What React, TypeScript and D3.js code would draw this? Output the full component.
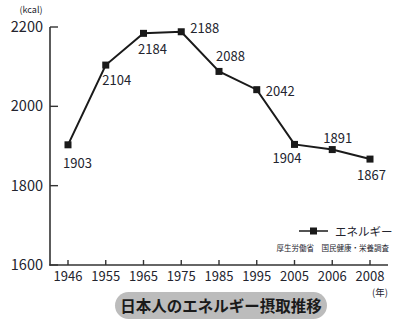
import React from "react";
import * as d3 from "d3";

const years = ["1946", "1955", "1965", "1975", "1985", "1995", "2005", "2006", "2008"];
const energy = [1903, 2104, 2184, 2188, 2088, 2042, 1904, 1891, 1867];
const yTicks = [1600, 1800, 2000, 2200];
// label placement offsets (dx, dy) relative to each point, text-anchor start
const labelDx = [-5, -3.5, -5.5, 9, -3, 9, -22, -9, -13];
const labelDy = [23, 19.5, 21, 1, -10, 6, 19, -7, 21];

const W = 400;
const H = 323;
const FONT = "'Noto Sans CJK JP', 'Noto Sans', sans-serif";
const TXT = "#23242e";

export default function App() {
  const x = d3.scalePoint<string>().domain(years).range([68, 370]);
  const y = d3.scaleLinear().domain([1600, 2200]).range([265, 27]);
  const line = d3
    .line<number>()
    .x((_, i) => x(years[i]) as number)
    .y((d) => y(d));

  return (
    <svg
      width={W}
      height={H}
      style={{ position: "absolute", left: 0, top: 0, background: "#fff" }}
      fontFamily={FONT}
    >
      {/* axes */}
      <line x1={50} x2={50} y1={27} y2={265.5} stroke="#333" strokeWidth={1.6} />
      <line x1={49.2} x2={388} y1={265} y2={265} stroke="#333" strokeWidth={1.6} />
      {yTicks.map((t) => (
        <g key={t}>
          <line x1={50} x2={58} y1={y(t)} y2={y(t)} stroke="#333" strokeWidth={1.4} />
          <text x={43} y={y(t) + 5} textAnchor="end" fontSize={14.5} fill={TXT}>
            {t}
          </text>
        </g>
      ))}
      {years.map((yr) => (
        <g key={yr}>
          <line x1={x(yr)} x2={x(yr)} y1={265} y2={260} stroke="#333" strokeWidth={1.4} />
          <text x={x(yr)} y={281} textAnchor="middle" fontSize={13} fill={TXT}>
            {yr}
          </text>
        </g>
      ))}
      <text x={31} y={12.5} textAnchor="middle" fontSize={9} fill={TXT}>
        (kcal)
      </text>
      <text x={380} y={296} textAnchor="middle" fontSize={9.5} fill={TXT}>
        (年)
      </text>

      {/* line & markers */}
      <path d={line(energy) || ""} fill="none" stroke="#1a1a1a" strokeWidth={2} />
      {energy.map((v, i) => (
        <rect
          key={i}
          x={(x(years[i]) as number) - 3.5}
          y={y(v) - 3.5}
          width={7}
          height={7}
          fill="#1a1a1a"
        />
      ))}
      {energy.map((v, i) => (
        <text
          key={"l" + i}
          x={(x(years[i]) as number) + labelDx[i]}
          y={y(v) + labelDy[i]}
          fontSize={13}
          fill={TXT}
        >
          {v}
        </text>
      ))}

      {/* legend */}
      <line x1={299} x2={328} y1={231} y2={231} stroke="#1a1a1a" strokeWidth={1.5} />
      <rect x={310} y={227.5} width={7} height={7} fill="#1a1a1a" />
      <text x={335} y={235.5} fontSize={11.5} fill={TXT}>
        エネルギー
      </text>
      <text x={389} y={251} textAnchor="end" fontSize={7.5} fill={TXT}>
        厚生労働省　国民健康・栄養調査
      </text>

      {/* title pill */}
      <rect x={115} y={292} width={212} height={27} rx={13.5} fill="#bcbcbc" />
      <text
        x={221}
        y={311.5}
        textAnchor="middle"
        fontSize={15.5}
        fontWeight={700}
        fill="#1a1a1a"
      >
        日本人のエネルギー摂取推移
      </text>
    </svg>
  );
}
